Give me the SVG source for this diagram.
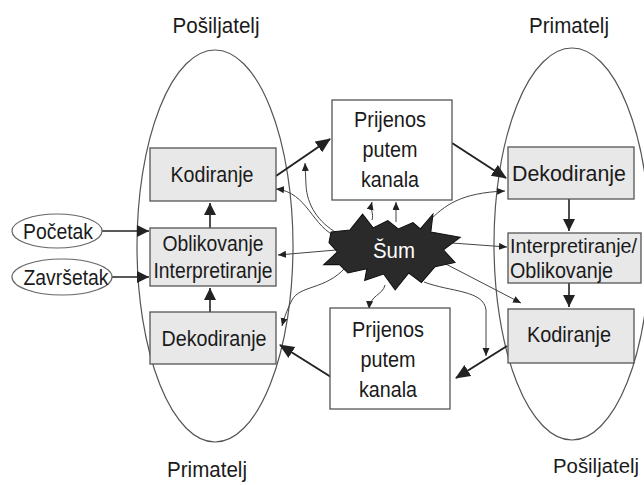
<svg xmlns="http://www.w3.org/2000/svg" width="644" height="485" viewBox="0 0 644 485">
<style>
text{font-family:"Liberation Sans",Arial,sans-serif;font-size:22px;fill:#1a1a1a;}
.c{text-anchor:middle;}
.s20{font-size:20px;}
.ell{fill:none;stroke:#555;stroke-width:1.2;}
.box{fill:#e8e8e8;stroke:#555;stroke-width:1.3;}
.wbox{fill:#fff;stroke:#555;stroke-width:1.3;}
.oval{fill:#fff;stroke:#666;stroke-width:1.2;}
.main{fill:none;stroke:#222;stroke-width:2;marker-end:url(#big);}
.up{fill:none;stroke:#222;stroke-width:1.6;marker-end:url(#mid);}
.noise{fill:none;stroke:#444;stroke-width:1;marker-end:url(#small);}
</style>
<defs>
<marker id="big" markerUnits="userSpaceOnUse" markerWidth="16" markerHeight="14" refX="14" refY="6.5" orient="auto"><path d="M0,0 L15,6.5 L0,13 z" fill="#222"/></marker>
<marker id="mid" markerUnits="userSpaceOnUse" markerWidth="14" markerHeight="14" refX="12" refY="6" orient="auto"><path d="M0,0 L12,6 L0,12 z" fill="#222"/></marker>
<marker id="small" markerUnits="userSpaceOnUse" markerWidth="10" markerHeight="8" refX="8" refY="3.5" orient="auto"><path d="M0,0 L8,3.5 L0,7 z" fill="#222"/></marker>
</defs>
<rect width="644" height="485" fill="#fff"/>

<g id="labels">
<text class="c" x="216" y="33" textLength="87" lengthAdjust="spacingAndGlyphs">Pošiljatelj</text>
<text class="c" x="569" y="33" textLength="80" lengthAdjust="spacingAndGlyphs">Primatelj</text>
<text class="c" x="207" y="477" textLength="80" lengthAdjust="spacingAndGlyphs">Primatelj</text>
<text class="c s20" x="596" y="473" textLength="86" lengthAdjust="spacingAndGlyphs">Pošiljatelj</text>
</g>

<g id="sender-ellipse"><ellipse class="ell" cx="215" cy="246" rx="78" ry="196"/></g>
<g id="receiver-ellipse"><ellipse class="ell" cx="572" cy="244" rx="78" ry="196"/></g>

<g id="connectors">
<path class="main" d="M276,176 L330,139"/>
<path class="main" d="M452,143 L506,178"/>
<path class="main" d="M507,346 L456,378"/>
<path class="main" d="M331,377 L280,345"/>
<path class="up" d="M210,228 L210,203"/>
<path class="up" d="M210,312 L210,288"/>
<path class="up" d="M569,199 L569,231"/>
<path class="up" d="M569,283 L569,307"/>
<path class="up" d="M102,231 L149,231"/>
<path class="up" d="M112,277 L149,277"/>
<path class="noise" d="M338,237 C312,228 308,192 276,189"/>
<path class="noise" d="M337,233 C318,222 307,205 306,185 L305,163"/>
<path class="noise" d="M336,250 L278,255"/>
<path class="noise" d="M345,268 C325,290 300,285 292,300 C288,308 285,315 282,326"/>
<path class="noise" d="M372,220 C374,214 370,210 372,202"/>
<path class="noise" d="M396,222 L396,202"/>
<path class="noise" d="M428,222 C445,205 460,193 505,191"/>
<path class="noise" d="M452,243 L507,247"/>
<path class="noise" d="M442,262 L521,303"/>
<path class="noise" d="M424,282 C450,292 484,290 486,310 L486,356"/>
<path class="noise" d="M385,285 C383,295 370,295 369,309"/>
</g>

<g id="pocetak"><ellipse class="oval" cx="57" cy="231" rx="45" ry="17"/><text class="c" x="58" y="239" textLength="70" lengthAdjust="spacingAndGlyphs">Početak</text></g>
<g id="zavrsetak"><ellipse class="oval" cx="62" cy="277" rx="50" ry="18"/><text class="c" x="66" y="285" textLength="85" lengthAdjust="spacingAndGlyphs">Završetak</text></g>

<g id="kodiranje-left"><rect class="box" x="150" y="148" width="126" height="53"/><text class="c" x="212" y="182" textLength="83" lengthAdjust="spacingAndGlyphs">Kodiranje</text></g>
<g id="oblikovanje-left"><rect class="box" x="150" y="228" width="126" height="58"/><text class="c" x="213" y="251" textLength="101" lengthAdjust="spacingAndGlyphs">Oblikovanje</text><text class="c" x="213" y="278" textLength="119" lengthAdjust="spacingAndGlyphs">Interpretiranje</text></g>
<g id="dekodiranje-left"><rect class="box" x="150" y="312" width="126" height="52"/><text class="c" x="214" y="346" textLength="105" lengthAdjust="spacingAndGlyphs">Dekodiranje</text></g>

<g id="prijenos-top"><rect class="wbox" x="332" y="100" width="120" height="100"/><text class="c" x="390" y="127" textLength="72" lengthAdjust="spacingAndGlyphs">Prijenos</text><text class="c" x="390" y="157" textLength="55" lengthAdjust="spacingAndGlyphs">putem</text><text class="c" x="390" y="187" textLength="58" lengthAdjust="spacingAndGlyphs">kanala</text></g>
<g id="prijenos-bottom"><rect class="wbox" x="330" y="308" width="120" height="101"/><text class="c" x="388" y="337" textLength="72" lengthAdjust="spacingAndGlyphs">Prijenos</text><text class="c" x="388" y="367" textLength="55" lengthAdjust="spacingAndGlyphs">putem</text><text class="c" x="388" y="397" textLength="58" lengthAdjust="spacingAndGlyphs">kanala</text></g>

<g id="sum"><polygon transform="translate(392 252) scale(1.05) translate(-392 -252)" points="334,233 352,231 364,216 374,229 388,222 398,230 412,224 419,230 431,216 429,233 457,238 441,250 452,262 433,266 420,281 408,272 395,288 384,273 366,279 368,268 350,272 342,264 327,264 340,252 332,243" fill="#2a2a2a" stroke="#111" stroke-width="1"/><text class="c" x="394" y="258" style="fill:#fff" textLength="42" lengthAdjust="spacingAndGlyphs">Šum</text></g>

<g id="dekodiranje-right"><rect class="box" x="508" y="147" width="126" height="52"/><text class="c" x="569" y="181" textLength="114" lengthAdjust="spacingAndGlyphs">Dekodiranje</text></g>
<g id="interpretiranje-right"><rect class="box" x="508" y="233" width="133" height="50"/><text class="s20" x="510" y="253" textLength="127" lengthAdjust="spacingAndGlyphs">Interpretiranje/</text><text x="510" y="278" textLength="103" lengthAdjust="spacingAndGlyphs">Oblikovanje</text></g>
<g id="kodiranje-right"><rect class="box" x="508" y="309" width="126" height="54"/><text class="c" x="569" y="342" textLength="84" lengthAdjust="spacingAndGlyphs">Kodiranje</text></g>
</svg>
